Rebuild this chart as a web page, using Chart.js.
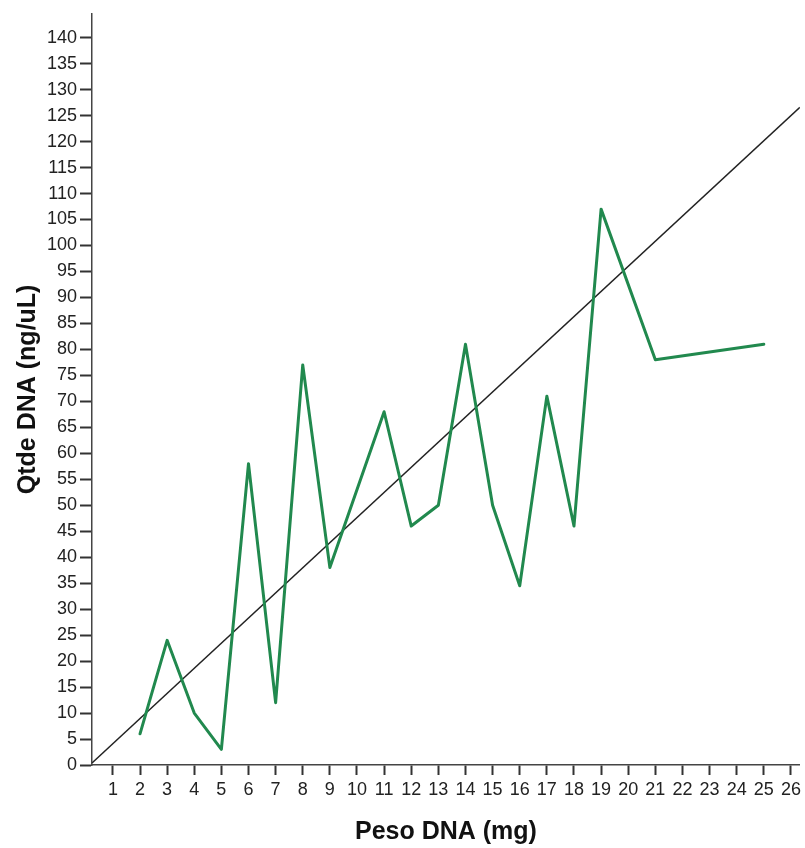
<!DOCTYPE html>
<html>
<head>
<meta charset="utf-8">
<script src="https://cdn.jsdelivr.net/npm/chart.js@4"></script>
<style>
  html, body { margin: 0; padding: 0; background: #fff; }
  #wrap { width: 805px; height: 848px; }
</style>
</head>
<body>
<div id="wrap"><canvas id="dnaChart" width="805" height="848"></canvas></div>
<script>
// peso (mg) vs quantidade (ng/uL)
const pesoX = [2, 3, 4, 5, 6, 7, 8, 9, 11, 12, 13, 14, 15, 16, 17, 18, 19, 21, 25];
const qtdeY = [6, 24, 10, 3, 58, 12, 77, 38, 68, 46, 50, 81, 50, 34.5, 71, 46, 107, 78, 81];

// reference line end points
const refX = [0.23, 26.33];
const refY = [0.4, 126.6];

// axis ticks
const xTicks = [1,2,3,4,5,6,7,8,9,10,11,12,13,14,15,16,17,18,19,20,21,22,23,24,25,26];
const yTicks = [0,5,10,15,20,25,30,35,40,45,50,55,60,65,70,75,80,85,90,95,100,105,110,115,120,125,130,135,140];

const pts = pesoX.map((x, i) => ({ x: x, y: qtdeY[i] }));
const refPts = refX.map((x, i) => ({ x: x, y: refY[i] }));

const tickFont = { family: "'Liberation Sans', Arial, sans-serif", size: 18 };
const titleFont = { family: "'Liberation Sans', Arial, sans-serif", size: 25, weight: "bold" };

new Chart(document.getElementById("dnaChart"), {
  type: "scatter",
  data: {
    datasets: [
      {
        data: refPts,
        showLine: true,
        borderColor: "#222",
        borderWidth: 1.5,
        pointRadius: 0,
        order: 2
      },
      {
        data: pts,
        showLine: true,
        borderColor: "#21894e",
        borderWidth: 3,
        borderJoinStyle: "round",
        borderCapStyle: "round",
        pointRadius: 0,
        tension: 0,
        order: 1
      }
    ]
  },
  options: {
    responsive: false,
    animation: false,
    layout: { padding: { top: 10, right: 3, left: 0, bottom: 0 } },
    plugins: { legend: { display: false }, tooltip: { enabled: false } },
    scales: {
      x: {
        type: "linear",
        min: 0.23,
        max: 26.33,
        afterBuildTicks: s => { s.ticks = xTicks.map(v => ({ value: v })); },
        afterFit: s => { s.height = 83; },
        grid: { drawOnChartArea: false, tickLength: 10, tickColor: "#333", tickWidth: 2 },
        border: { color: "#444", width: 1.5 },
        ticks: { font: tickFont, color: "#222", padding: 4, maxRotation: 0, autoSkip: false },
        title: { display: true, text: "Peso DNA (mg)", font: titleFont, color: "#111", padding: { top: 0, bottom: 1 } }
      },
      y: {
        type: "linear",
        min: 0,
        max: 144.6,
        afterBuildTicks: s => { s.ticks = yTicks.map(v => ({ value: v })); },
        afterFit: s => { s.width = 92; },
        grid: { drawOnChartArea: false, tickLength: 12, tickColor: "#333", tickWidth: 2 },
        border: { color: "#444", width: 1.5 },
        ticks: { font: tickFont, color: "#222", padding: 3, autoSkip: false },
        title: { display: true, text: "Qtde DNA (ng/uL)", font: titleFont, color: "#111", padding: { top: 13, bottom: 0 } }
      }
    }
  }
});
</script>
</body>
</html>
